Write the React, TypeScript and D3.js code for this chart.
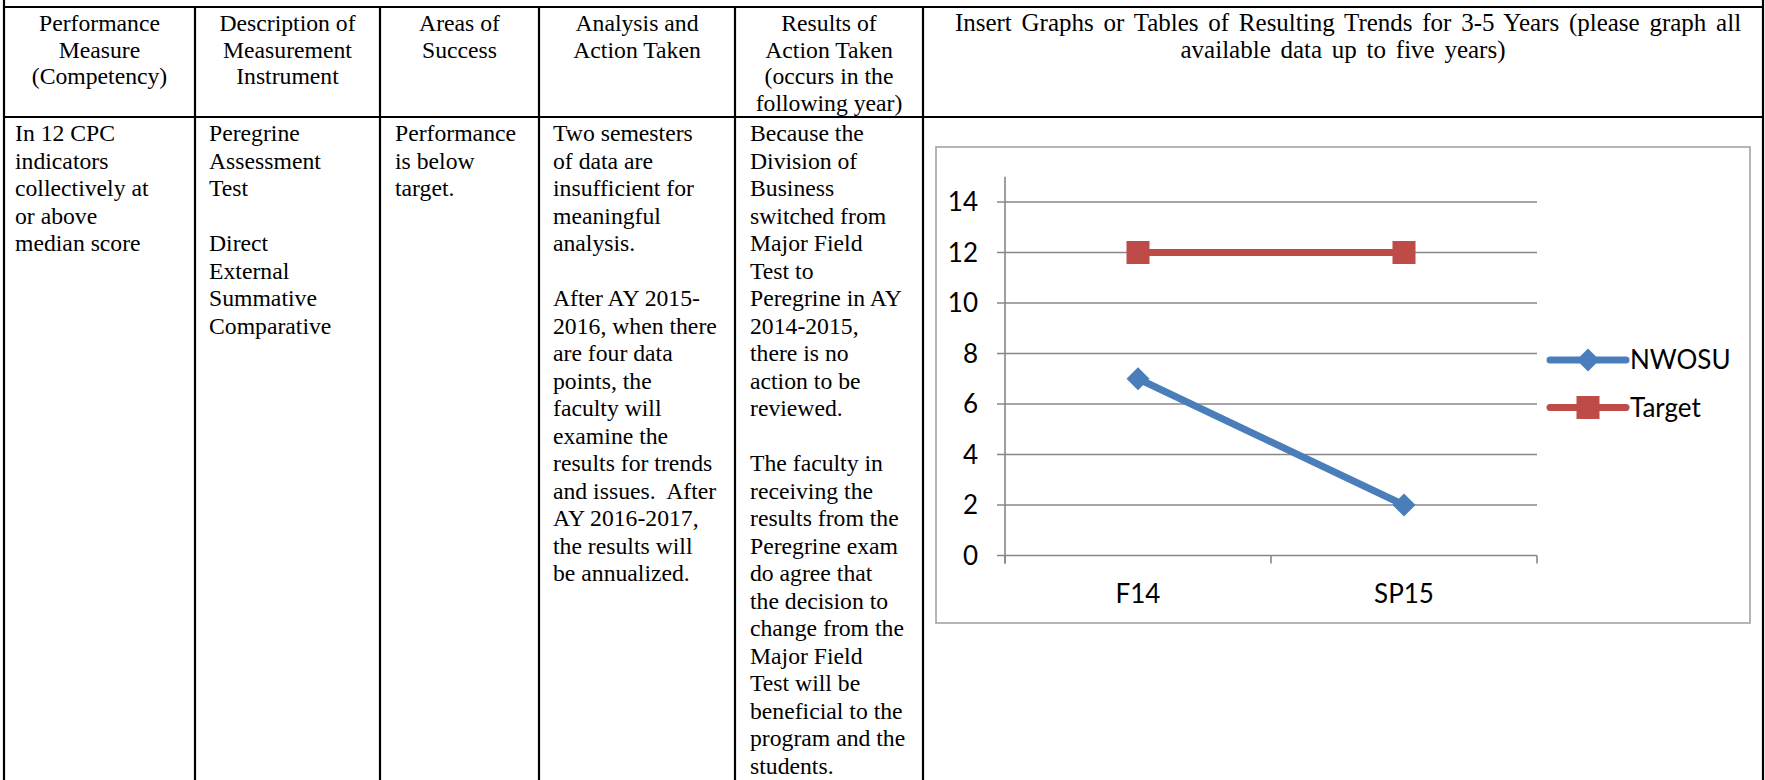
import * as d3 from "d3";
import { useEffect, useRef } from "react";

// chart values
const categories = ["F14", "SP15"];
const nwosuValues = [7, 2];
const targetValues = [12, 12];
const yTickValues = [0, 2, 4, 6, 8, 10, 12, 14];
const seriesNames = ["NWOSU", "Target"];

// table text
const headerCells = [
    ["Performance", "Measure", "(Competency)"],
    ["Description of", "Measurement", "Instrument"],
    ["Areas of", "Success"],
    ["Analysis and", "Action Taken"],
    ["Results of", "Action Taken", "(occurs in the", "following year)"],
    ["Insert Graphs or Tables of Resulting Trends for 3-5 Years (please graph all", "available data up to five years)"],
];

const bodyCells = [
    ["In 12 CPC", "indicators", "collectively at", "or above", "median score"],
    ["Peregrine", "Assessment", "Test", "", "Direct", "External", "Summative", "Comparative"],
    ["Performance", "is below", "target."],
    ["Two semesters", "of data are", "insufficient for", "meaningful", "analysis.", "",
        "After AY 2015-", "2016, when there", "are four data", "points, the", "faculty will",
        "examine the", "results for trends", "and issues.  After", "AY 2016-2017,",
        "the results will", "be annualized."],
    ["Because the", "Division of", "Business", "switched from", "Major Field", "Test to",
        "Peregrine in AY", "2014-2015,", "there is no", "action to be", "reviewed.", "",
        "The faculty in", "receiving the", "results from the", "Peregrine exam",
        "do agree that", "the decision to", "change from the", "Major Field",
        "Test will be", "beneficial to the", "program and the", "students."],
];

const W = 1765;
const H = 780;

const PerformanceTable: React.FC = () => {
    const svgRef = useRef<SVGSVGElement | null>(null);

    useEffect(() => {
        if (!svgRef.current) return;
        const svg = d3.select(svgRef.current);
        svg.selectAll("*").remove();

        const colEdges = [4, 195, 380, 539, 735, 923, 1763];
        const tableTop = 7;
        const headerBottom = 117;
        const headerLineH = 26.5;
        const lineH = 27.5;
        const serif = "'Liberation Serif', 'Times New Roman', serif";
        const fontSize = 23.7;

        // header text, centered (last column is set a touch larger and looser)
        headerCells.forEach((lines, c) => {
            const cx = (colEdges[c] + colEdges[c + 1]) / 2;
            lines.forEach((t, i) => {
                svg.append("text")
                    .attr("x", c === 5 && i === 0 ? cx + 5 : cx)
                    .attr("y", tableTop + 24 + i * headerLineH)
                    .attr("text-anchor", "middle")
                    .attr("font-family", serif)
                    .attr("font-size", c === 5 ? 25 : fontSize)
                    .attr("fill", "#000")
                    .style("white-space", "pre")
                    .style("word-spacing", c === 5 ? "3.5px" : "0px")
                    .text(t);
            });
        });

        // body text, left aligned
        const pads = [11, 14, 15, 14, 15];
        bodyCells.forEach((lines, c) => {
            lines.forEach((t, i) => {
                if (!t) return;
                svg.append("text")
                    .attr("x", colEdges[c] + pads[c])
                    .attr("y", headerBottom + 24 + i * lineH)
                    .attr("font-family", serif)
                    .attr("font-size", fontSize)
                    .attr("fill", "#000")
                    .style("white-space", "pre")
                    .text(t);
            });
        });

        // table rules
        const rules = svg.append("g").attr("stroke", "#000").attr("stroke-width", 2.2);
        [tableTop, headerBottom].forEach(y => {
            rules.append("line").attr("x1", colEdges[0] - 1).attr("x2", colEdges[6] + 1).attr("y1", y).attr("y2", y);
        });
        colEdges.forEach((x, i) => {
            const outer = i === 0 || i === colEdges.length - 1;
            rules.append("line").attr("x1", x).attr("x2", x)
                .attr("y1", outer ? 0 : tableTop).attr("y2", H);
        });

        // ---- embedded line chart ----
        const sans = "Lato, 'Open Sans', sans-serif";
        const chartFont = 26;
        const box = { x: 936, y: 147, w: 814, h: 476 };
        svg.append("rect")
            .attr("x", box.x).attr("y", box.y)
            .attr("width", box.w).attr("height", box.h)
            .attr("fill", "#fff")
            .attr("stroke", "#a3a3a3")
            .attr("stroke-width", 1.6);

        const x = d3.scaleBand<string>().domain(categories).range([1005, 1537]);
        const y = d3.scaleLinear().domain([0, 15]).range([555.5, 176.75]);

        const grid = svg.append("g");
        yTickValues.forEach(v => {
            grid.append("line")
                .attr("x1", 997).attr("x2", 1537)
                .attr("y1", y(v)).attr("y2", y(v))
                .attr("stroke", "#878787").attr("stroke-width", 1.6);
            grid.append("text")
                .attr("x", 978).attr("y", y(v))
                .attr("dy", "0.36em")
                .attr("text-anchor", "end")
                .attr("font-family", sans)
                .attr("font-size", chartFont)
                .attr("fill", "#000")
                .text(v);
        });
        // y axis
        grid.append("line")
            .attr("x1", 1005).attr("x2", 1005)
            .attr("y1", y(15)).attr("y2", y(0) + 8)
            .attr("stroke", "#878787").attr("stroke-width", 1.6);
        // x ticks
        const bandEdges = [...categories.map(c => x(c) as number), 1537];
        bandEdges.forEach(bx => {
            grid.append("line")
                .attr("x1", bx).attr("x2", bx)
                .attr("y1", y(0)).attr("y2", y(0) + 8)
                .attr("stroke", "#878787").attr("stroke-width", 1.6);
        });
        categories.forEach(c => {
            grid.append("text")
                .attr("x", (x(c) as number) + x.bandwidth() / 2)
                .attr("y", 594)
                .attr("dy", "0.36em")
                .attr("text-anchor", "middle")
                .attr("font-family", sans)
                .attr("font-size", chartFont)
                .attr("fill", "#000")
                .text(c);
        });

        const colors = ["#4a7ebb", "#be4b48"];
        const allSeries = [nwosuValues, targetValues];
        const line = d3.line<number>()
            .x((_, i) => (x(categories[i]) as number) + x.bandwidth() / 2)
            .y(d => y(d));

        const diamond = (cx: number, cy: number, r: number) =>
            `M${cx},${cy - r}L${cx + r},${cy}L${cx},${cy + r}L${cx - r},${cy}Z`;

        const drawMarker = (g: d3.Selection<SVGGElement, unknown, null, undefined>, s: number, cx: number, cy: number) => {
            if (s === 0) {
                g.append("path").attr("d", diamond(cx, cy, 11.5)).attr("fill", colors[s]);
            } else {
                g.append("rect").attr("x", cx - 11.5).attr("y", cy - 11.5)
                    .attr("width", 23).attr("height", 23).attr("fill", colors[s]);
            }
        };

        allSeries.forEach((vals, s) => {
            const g = svg.append("g");
            g.append("path")
                .attr("d", line(vals))
                .attr("fill", "none")
                .attr("stroke", colors[s])
                .attr("stroke-width", 7)
                .attr("stroke-linecap", "round")
                .attr("stroke-linejoin", "round");
            vals.forEach((v, i) => {
                drawMarker(g, s, (x(categories[i]) as number) + x.bandwidth() / 2, y(v));
            });
        });

        // legend
        const legendY = [360, 407.5];
        seriesNames.forEach((name, s) => {
            const g = svg.append("g");
            g.append("line")
                .attr("x1", 1550).attr("x2", 1626)
                .attr("y1", legendY[s]).attr("y2", legendY[s])
                .attr("stroke", colors[s])
                .attr("stroke-width", 7)
                .attr("stroke-linecap", "round");
            drawMarker(g, s, 1588, legendY[s]);
            g.append("text")
                .attr("x", 1630).attr("y", legendY[s])
                .attr("dy", "0.36em")
                .attr("font-family", sans)
                .attr("font-size", chartFont)
                .attr("fill", "#000")
                .text(name);
        });
    }, []);

    return (
        <svg
            ref={svgRef}
            width={W}
            height={H}
            style={{ position: "absolute", left: 0, top: 0, background: "#fff" }}
        />
    );
};

export default function App() {
    return <PerformanceTable />;
}
